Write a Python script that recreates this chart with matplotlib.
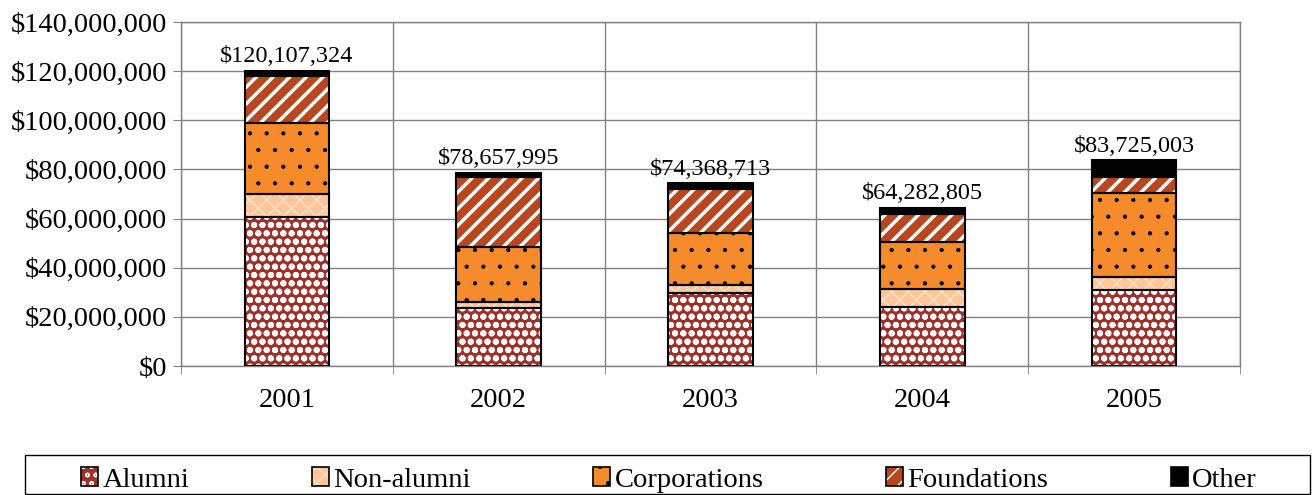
import numpy as np
import matplotlib
matplotlib.use('Agg')
import matplotlib.pyplot as plt
from matplotlib.patches import Patch, Rectangle
from matplotlib.ticker import FuncFormatter

plt.rcParams['font.family'] = ['Liberation Serif', 'DejaVu Serif']

years = ['2001', '2002', '2003', '2004', '2005']
series = ['Alumni', 'Non-alumni', 'Corporations', 'Foundations', 'Other']

# values in millions of dollars
alumni = [60.8, 23.7, 29.7, 24.1, 30.9]
non_alumni = [9.1, 2.2, 3.3, 7.2, 5.3]
corporations = [28.8, 22.4, 21.1, 19.3, 34.1]
foundations = [19.5, 28.5, 17.9, 11.3, 6.5]
totals = [120107324, 78657995, 74368713, 64282805, 83725003]

colors = ['#A2302A', '#FCC69A', '#F68B2C', '#B8461F', '#000000']
hatches = ['oo', 'xx', '.', '//', None]
hatch_colors = ['white', '#FFE3CC', 'black', 'white', 'black']
hatch_lw = [2.0, 1.0, 0.6, 2.5, 1.0]


def main():
    known = [alumni, non_alumni, corporations, foundations]
    other = [t / 1e6 - sum(v[i] for v in known) for i, t in enumerate(totals)]
    data = known + [other]

    fig = plt.figure(figsize=(13.12, 4.95), dpi=100)
    ax = fig.add_axes([181 / 1312, 1 - 366 / 495, (1240 - 181) / 1312, (366 - 22) / 495])

    ind = np.arange(len(years))
    width = 0.4
    bottom = np.zeros(len(years))
    handles = []
    for vals, col, h, hc, hlw in zip(data, colors, hatches, hatch_colors, hatch_lw):
        vals = np.array(vals) * 1e6
        with plt.rc_context({'hatch.linewidth': hlw}):
            ax.bar(ind, vals, width, bottom=bottom, color=col, hatch=h,
                   edgecolor=hc, linewidth=0, zorder=3)
            p1 = Patch(facecolor=col, hatch=h, edgecolor=hc, linewidth=0)
        ax.bar(ind, vals, width, bottom=bottom, fill=False,
               edgecolor='black', linewidth=1.5, zorder=4)
        p2 = Patch(fill=False, edgecolor='black', linewidth=1.2)
        handles.append((p1, p2))
        bottom += vals

    for i, t in enumerate(totals):
        ax.text(ind[i], t + 1.5e6, '${:,}'.format(t), ha='center', va='bottom',
                fontsize=17.5)

    ax.set_xlim(-0.5, 4.5)
    ax.set_ylim(0, 140e6)
    ax.set_yticks(np.arange(0, 140e6 + 1, 20e6))
    ax.yaxis.set_major_formatter(FuncFormatter(lambda v, p: '${:,.0f}'.format(v)))
    ax.set_xticks(ind)
    ax.set_xticklabels(years)
    ax.set_xticks(np.arange(-0.5, 4.6, 1), minor=True)
    ax.tick_params(axis='x', which='major', length=0, pad=16, labelsize=20.5)
    ax.tick_params(axis='x', which='minor', length=6, color='#808080')
    ax.tick_params(axis='y', length=6, color='#808080', labelsize=20.5, pad=4)
    ax.grid(True, axis='y', color='#808080', linewidth=1, zorder=0)
    ax.grid(True, axis='x', which='minor', color='#808080', linewidth=1, zorder=0)
    for s in ax.spines.values():
        s.set_color('#808080')
        s.set_linewidth(1)

    # legend box
    fig.patches.append(Rectangle((25 / 1312, 1 / 495), (1310 - 25) / 1312, 39 / 495,
                                 transform=fig.transFigure, fill=False,
                                 edgecolor='black', linewidth=1))
    fig.legend(handles, series, loc='center', ncol=5,
               bbox_to_anchor=(669 / 1312, 1 - 480 / 495),
               fontsize=20.5, frameon=False, handlelength=0.6,
               handleheight=0.6, handletextpad=0.15, columnspacing=4.3)

    fig.savefig('out.png', dpi=100)


if __name__ == '__main__':
    main()
